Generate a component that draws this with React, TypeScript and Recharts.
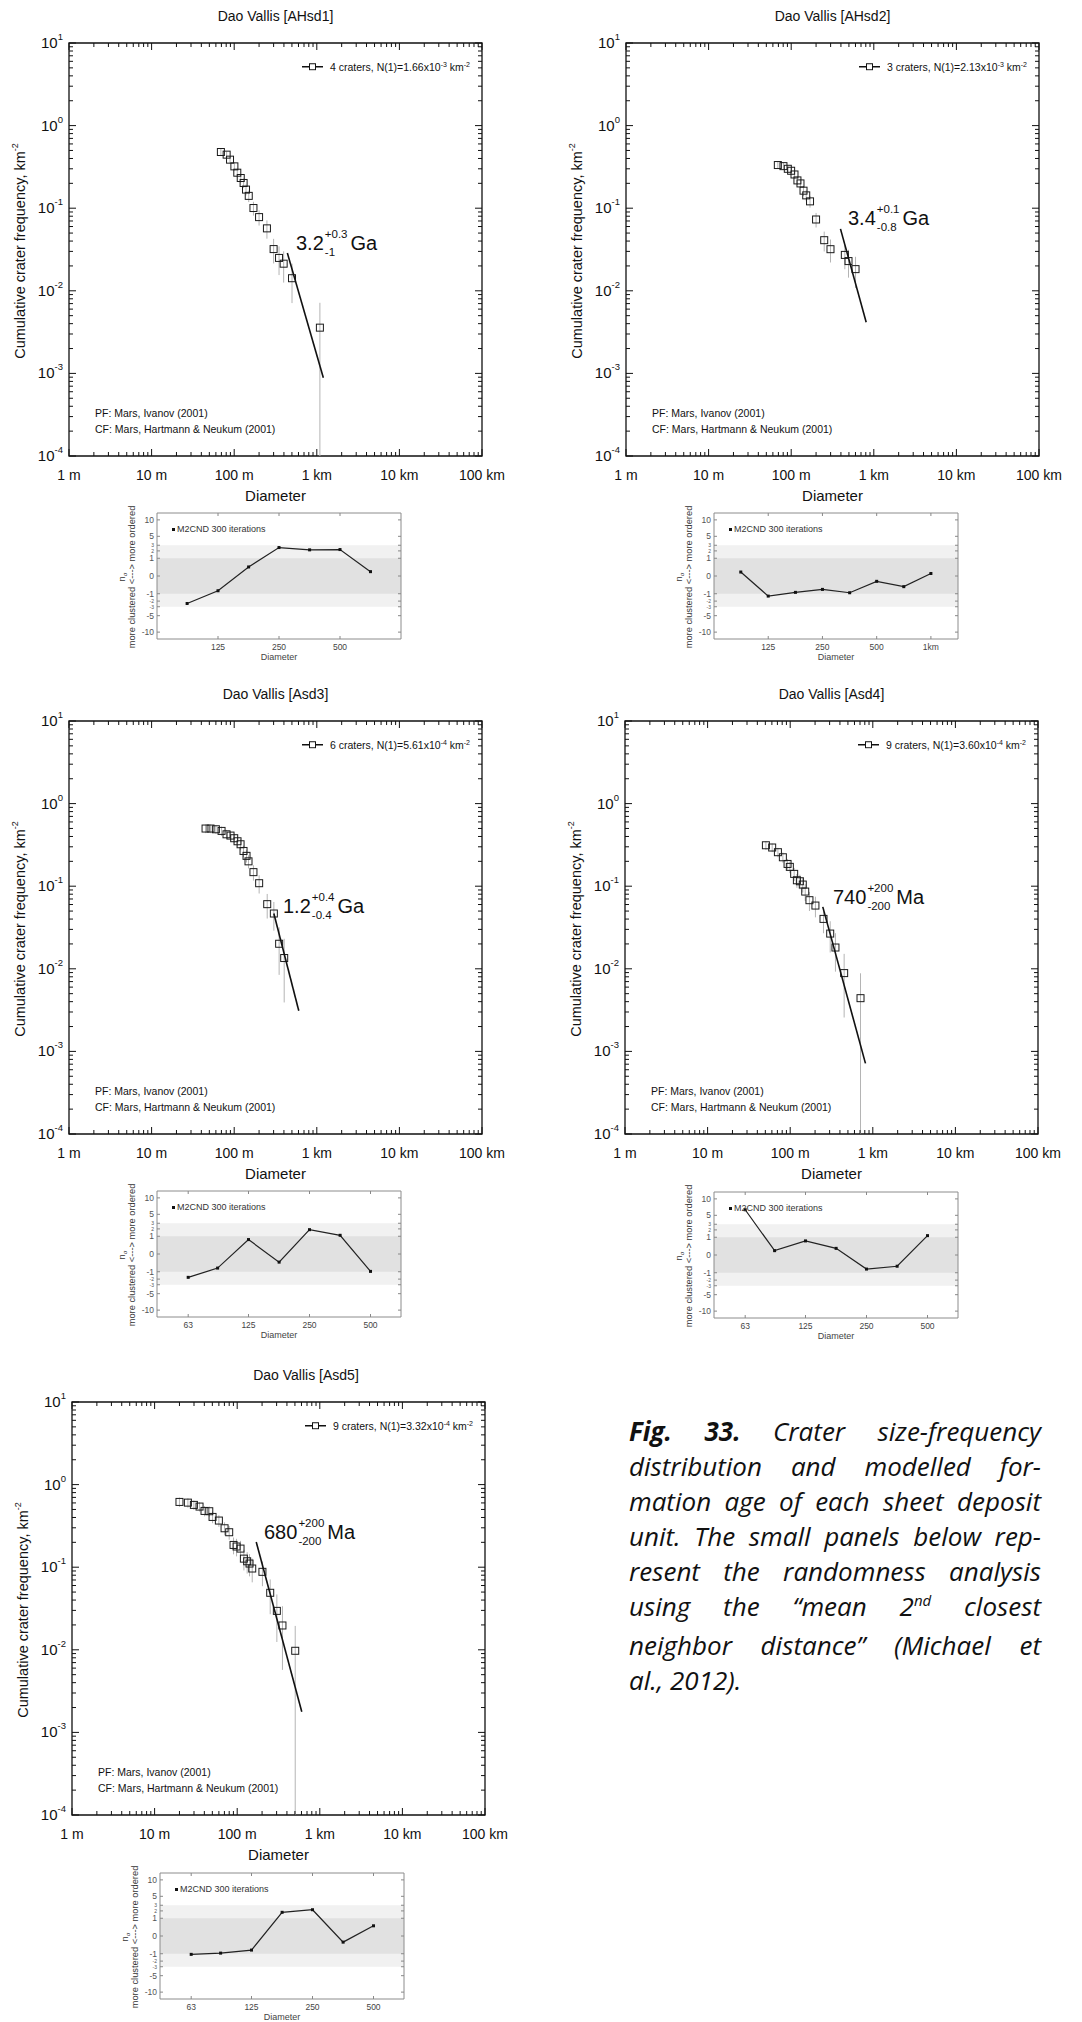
import React from "react";
import { ComposedChart, Scatter, XAxis, YAxis, ErrorBar, ReferenceArea } from "recharts";

const FONT = "'Liberation Sans', Arial, Helvetica, sans-serif";

// ---- crater size-frequency data (diameter km, cumulative frequency km^-2, relative error)
const diam1 = [0.069, 0.081, 0.089, 0.1005, 0.109, 0.12, 0.13, 0.139, 0.15, 0.171, 0.2, 0.249, 0.3, 0.349, 0.397, 0.501, 1.09];
const freq1 = [0.479, 0.445, 0.387, 0.321, 0.269, 0.232, 0.202, 0.168, 0.141, 0.1005, 0.078, 0.057, 0.032, 0.025, 0.0213, 0.0142, 0.00358];
const err1 = [0.09, 0.09, 0.1, 0.11, 0.12, 0.12, 0.13, 0.15, 0.16, 0.19, 0.21, 0.25, 0.33, 0.38, 0.41, 0.5, 1];
const fitD1 = [0.44, 1.2];
const fitN1 = [0.0287, 0.000887];

const diam2 = [0.0689, 0.0806, 0.091, 0.0998, 0.1096, 0.119, 0.1295, 0.141, 0.152, 0.169, 0.2, 0.251, 0.299, 0.446, 0.494, 0.601];
const freq2 = [0.333, 0.323, 0.3, 0.284, 0.256, 0.217, 0.1995, 0.163, 0.143, 0.121, 0.073, 0.041, 0.0319, 0.0272, 0.0229, 0.0183];
const err2 = [0.1, 0.1, 0.1, 0.1, 0.11, 0.12, 0.12, 0.14, 0.15, 0.16, 0.2, 0.27, 0.31, 0.33, 0.37, 0.41];
const fitD2 = [0.395, 0.809];
const fitN2 = [0.0562, 0.00417];

const diam3 = [0.045, 0.0517, 0.06, 0.0703, 0.0807, 0.0903, 0.1, 0.1097, 0.1194, 0.1297, 0.141, 0.149, 0.171, 0.2005, 0.251, 0.302, 0.35, 0.403];
const freq3 = [0.499, 0.499, 0.489, 0.467, 0.425, 0.41, 0.381, 0.35, 0.322, 0.267, 0.233, 0.2, 0.148, 0.1087, 0.0606, 0.0467, 0.0201, 0.0135];
const err3 = [0.12, 0.12, 0.12, 0.13, 0.13, 0.13, 0.13, 0.14, 0.15, 0.16, 0.17, 0.18, 0.21, 0.25, 0.33, 0.38, 0.58, 0.71];
const fitD3 = [0.302, 0.605];
const fitN3 = [0.0467, 0.0031];

const diam4 = [0.0508, 0.0605, 0.071, 0.0815, 0.0929, 0.099, 0.1117, 0.1205, 0.131, 0.142, 0.152, 0.171, 0.202, 0.253, 0.305, 0.353, 0.45, 0.71];
const freq4 = [0.313, 0.294, 0.258, 0.224, 0.186, 0.1714, 0.141, 0.118, 0.1148, 0.1047, 0.0861, 0.0677, 0.0583, 0.0402, 0.0267, 0.0181, 0.00887, 0.00441];
const err4 = [0.12, 0.12, 0.13, 0.14, 0.15, 0.16, 0.18, 0.19, 0.2, 0.2, 0.23, 0.26, 0.28, 0.33, 0.41, 0.49, 0.71, 1];
const fitD4 = [0.248, 0.815];
const fitN4 = [0.0562, 0.000716];

const diam5 = [0.02, 0.0253, 0.0299, 0.035, 0.0402, 0.0459, 0.0503, 0.06, 0.0703, 0.08, 0.0903, 0.0982, 0.1097, 0.1205, 0.132, 0.141, 0.152, 0.202, 0.251, 0.302, 0.353, 0.504];
const freq5 = [0.617, 0.605, 0.568, 0.542, 0.48, 0.476, 0.406, 0.367, 0.296, 0.265, 0.186, 0.178, 0.168, 0.127, 0.118, 0.1107, 0.0964, 0.0879, 0.049, 0.0296, 0.0197, 0.00973];
const err5 = [0.13, 0.13, 0.13, 0.13, 0.14, 0.14, 0.16, 0.16, 0.18, 0.19, 0.23, 0.24, 0.24, 0.28, 0.29, 0.3, 0.32, 0.33, 0.45, 0.58, 0.71, 1];
const fitD5 = [0.17, 0.605];
const fitN5 = [0.202, 0.00178];

const TITLES = ["Dao Vallis [AHsd1]", "Dao Vallis [AHsd2]", "Dao Vallis [Asd3]", "Dao Vallis [Asd4]", "Dao Vallis [Asd5]"];
const LEG_COUNT = ["4 craters", "3 craters", "6 craters", "9 craters", "9 craters"];
const LEG_N = ["1.66", "2.13", "5.61", "3.60", "3.32"];
const LEG_EXP = ["-3", "-3", "-4", "-4", "-4"];
const AGE_VAL = ["3.2", "3.4", "1.2", "740", "680"];
const AGE_UP = ["+0.3", "+0.1", "+0.4", "+200", "+200"];
const AGE_LO = ["-1", "-0.8", "-0.4", "-200", "-200"];
const AGE_UNIT = ["Ga", "Ga", "Ga", "Ma", "Ma"];

// ---- randomness analysis (M2CND), diameter m vs n-sigma
const rx1 = [88, 125, 177, 250, 354, 500, 707];
const rv1 = [-2.4, -0.69, 0.26, 2.57, 2.17, 2.22, 0.06];
const rx2 = [88, 125, 177, 250, 354, 500, 707, 1000];
const rv2 = [0.05, -1.28, -0.85, -0.57, -0.89, -0.09, -0.36, 0.02];
const rx3 = [63, 88, 125, 177, 250, 354, 500];
const rv3 = [-1.73, -0.63, 0.66, -0.21, 1.88, 1.11, -0.96];
const rv4 = [6.5, 0.06, 0.63, 0.14, -0.63, -0.4, 1.19];
const rv5 = [-1.07, -0.93, -0.63, 1.78, 2.19, -0.12, 0.33];

// ---- axes
const X_MAJOR = [0.001, 0.01, 0.1, 1, 10, 100];
const X_LABELS = ["1 m", "10 m", "100 m", "1 km", "10 km", "100 km"];
const Y_MAJOR = [1e-4, 1e-3, 1e-2, 1e-1, 1, 10];
const Y_EXP = ["-4", "-3", "-2", "-1", "0", "1"];
const MINOR = [2, 3, 4, 5, 6, 7, 8, 9];
const X_TICKS = [...X_MAJOR, ...X_MAJOR.slice(0, -1).flatMap((d) => MINOR.map((m) => d * m))];
const Y_TICKS = [...Y_MAJOR, ...Y_MAJOR.slice(0, -1).flatMap((d) => MINOR.map((m) => d * m))];
const R_TICKS = [-10, -5, -3, -2, -1, 0, 1, 2, 3, 5, 10];
const R_SMALL = [-3, -2, 2, 3]; // crowded labels, drawn smaller

const PW = 413; // plot size
const OX = 60;
const OY = 45;
const CW = 503;
const CH = 520;

const mainXTick = (p: any) => {
  const v = p.payload.value;
  const i = X_MAJOR.indexOf(v);
  const len = i >= 0 ? 7 : 4;
  return (
    <g>
      <line x1={p.x} x2={p.x} y1={OY + PW} y2={OY + PW - len} stroke="#111" />
      <line x1={p.x} x2={p.x} y1={OY} y2={OY + len} stroke="#111" />
      {i >= 0 && (
        <text x={p.x} y={OY + PW + 24} textAnchor="middle" fontSize={14} fill="#111">
          {X_LABELS[i]}
        </text>
      )}
    </g>
  );
};

const mainYTick = (p: any) => {
  const v = p.payload.value;
  const i = Y_MAJOR.indexOf(v);
  const len = i >= 0 ? 7 : 4;
  return (
    <g>
      <line x1={OX} x2={OX + len} y1={p.y} y2={p.y} stroke="#111" />
      <line x1={OX + PW} x2={OX + PW - len} y1={p.y} y2={p.y} stroke="#111" />
      {i >= 0 && (
        <text x={OX - 6} y={p.y + 5} textAnchor="end" fontSize={15} fill="#111">
          10
          <tspan dy={-8} fontSize={9.5}>
            {Y_EXP[i]}
          </tspan>
        </text>
      )}
    </g>
  );
};

const openSquare = (p: any) => (
  <rect x={p.cx - 3.5} y={p.cy - 3.5} width={7} height={7} fill="none" stroke="#1a1a1a" strokeWidth={1} />
);
const noShape = () => <g />;

const abs = (left: number, top: number, extra: React.CSSProperties = {}): React.CSSProperties => ({
  position: "absolute",
  left,
  top,
  ...extra,
});

function CraterPanel({ i, L, T, diam, freq, err, fitD, fitN, ageDx, ageDy, titleX }: any) {
  const pts = diam.map((d: number, k: number) => ({
    x: d,
    y: freq[k],
    e: [Math.min(freq[k] * err[k], freq[k] - 1e-4), freq[k] * err[k]],
  }));
  const fit = fitD.map((d: number, k: number) => ({ x: d, y: fitN[k] }));
  return (
    <>
      <div style={abs(L - OX, T - OY)}>
        <ComposedChart width={CW} height={CH} margin={{ top: OY, right: CW - OX - PW, bottom: CH - OY - PW - 30, left: 0 }}>
          <XAxis
            type="number"
            dataKey="x"
            scale="log"
            domain={[0.001, 100]}
            ticks={X_TICKS}
            interval={0}
            tick={mainXTick}
            tickLine={false}
            axisLine={false}
            allowDataOverflow
            height={30}
          />
          <YAxis
            type="number"
            dataKey="y"
            scale="log"
            domain={[1e-4, 10]}
            ticks={Y_TICKS}
            interval={0}
            tick={mainYTick}
            tickLine={false}
            axisLine={false}
            allowDataOverflow
            width={OX}
          />
          <ReferenceArea x1={0.001} x2={100} y1={1e-4} y2={10} fill="none" stroke="#111" strokeWidth={1.3} ifOverflow="visible" />
          <Scatter data={pts} shape={openSquare} isAnimationActive={false}>
            <ErrorBar dataKey="e" direction="y" width={0} stroke="#b4b4b4" strokeWidth={1} isAnimationActive={false} />
          </Scatter>
          <Scatter data={fit} shape={noShape} line={{ stroke: "#111", strokeWidth: 1.6 }} lineType="joint" isAnimationActive={false} />
        </ComposedChart>
      </div>
      <div style={abs(titleX ?? L + PW / 2, T - 27, { transform: "translate(-50%,-50%)", fontSize: 14, whiteSpace: "nowrap" })}>
        {TITLES[i]}
      </div>
      <div style={abs(L + PW / 2, T + PW + 39, { transform: "translate(-50%,-50%)", fontSize: 15, whiteSpace: "nowrap" })}>
        Diameter
      </div>
      <div
        style={abs(L - 49, T + 208, {
          transform: "translate(-50%,-50%) rotate(-90deg)",
          fontSize: 14.5,
          whiteSpace: "nowrap",
          lineHeight: 1,
        })}
      >
        Cumulative crater frequency, km<span style={{ fontSize: 9, position: "relative", top: -7 }}>-2</span>
      </div>
      <div style={abs(L + 233, T + 24, { transform: "translateY(-50%)", display: "flex", alignItems: "center", fontSize: 10.5, whiteSpace: "nowrap", lineHeight: 1 })}>
        <svg width={22} height={8} style={{ display: "block" }}>
          <line x1={0} y1={4} x2={21} y2={4} stroke="#111" strokeWidth={1.4} />
          <rect x={7.5} y={1} width={6} height={6} fill="#fff" stroke="#111" />
        </svg>
        <span style={{ marginLeft: 6 }}>
          {LEG_COUNT[i]}, N(1)={LEG_N[i]}x10
          <span style={{ fontSize: 7, position: "relative", top: -4 }}>{LEG_EXP[i]}</span> km
          <span style={{ fontSize: 7, position: "relative", top: -4 }}>-2</span>
        </span>
      </div>
      <div style={abs(L + 26, T + 370, { transform: "translateY(-50%)", fontSize: 10.5, whiteSpace: "nowrap" })}>PF: Mars, Ivanov (2001)</div>
      <div style={abs(L + 26, T + 386, { transform: "translateY(-50%)", fontSize: 10.5, whiteSpace: "nowrap" })}>
        CF: Mars, Hartmann &amp; Neukum (2001)
      </div>
      <div style={abs(L + ageDx, T + ageDy, { transform: "translateY(-50%)", display: "flex", alignItems: "center", fontSize: 20, lineHeight: 1, whiteSpace: "nowrap" })}>
        <span>{AGE_VAL[i]}</span>
        <span style={{ display: "inline-flex", flexDirection: "column", fontSize: 11.5, lineHeight: "18px", margin: "0 3px 0 1px" }}>
          <span>{AGE_UP[i]}</span>
          <span>{AGE_LO[i]}</span>
        </span>
        <span>{AGE_UNIT[i]}</span>
      </div>
    </>
  );
}

const RW = 244;
const RH = 126;
const ROX = 40;
const ROY = 10;
const RDOM = 12.6;

const dotShape = (p: any) => <rect x={p.cx - 1.5} y={p.cy - 1.5} width={3} height={3} fill="#111" />;

function RandPanel({ L, T, xs, vs, domain, ticks, labels }: any) {
  const data = xs.map((d: number, k: number) => ({ d, v: vs[k] }));
  const xTick = (p: any) => {
    const k = ticks.indexOf(p.payload.value);
    return (
      <g>
        <line x1={p.x} x2={p.x} y1={ROY + RH} y2={ROY + RH - 3} stroke="#888" />
        <line x1={p.x} x2={p.x} y1={ROY} y2={ROY + 3} stroke="#888" />
        <text x={p.x} y={ROY + RH + 11} textAnchor="middle" fontSize={8.5} fill="#444">
          {labels[k]}
        </text>
      </g>
    );
  };
  const yTick = (p: any) => {
    const small = R_SMALL.includes(p.payload.value);
    return (
      <g>
        <line x1={ROX} x2={ROX + 3} y1={p.y} y2={p.y} stroke="#888" />
        <line x1={ROX + RW} x2={ROX + RW - 3} y1={p.y} y2={p.y} stroke="#888" />
        <text x={ROX - 3} y={p.y + (small ? 2 : 3)} textAnchor="end" fontSize={small ? 5 : 8.5} fill="#555">
          {p.payload.value}
        </text>
      </g>
    );
  };
  return (
    <>
      <div style={abs(L - ROX, T - ROY)}>
        <ComposedChart width={ROX + RW + 10} height={ROY + RH + 30} margin={{ top: ROY, right: 10, bottom: 0, left: 0 }}>
          <XAxis
            type="number"
            dataKey="d"
            scale="log"
            domain={domain}
            ticks={ticks}
            interval={0}
            tick={xTick}
            tickLine={false}
            axisLine={false}
            allowDataOverflow
            height={30}
          />
          <YAxis
            type="number"
            dataKey="v"
            scale="sqrt"
            domain={[-RDOM, RDOM]}
            ticks={R_TICKS}
            interval={0}
            tick={yTick}
            tickLine={false}
            axisLine={false}
            allowDataOverflow
            width={ROX}
          />
          <ReferenceArea x1={domain[0]} x2={domain[1]} y1={-3} y2={3} fill="#f1f1f1" fillOpacity={1} stroke="none" />
          <ReferenceArea x1={domain[0]} x2={domain[1]} y1={-1} y2={1} fill="#e1e1e1" fillOpacity={1} stroke="none" />
          <ReferenceArea x1={domain[0]} x2={domain[1]} y1={-RDOM} y2={RDOM} fill="none" stroke="#8c8c8c" strokeWidth={1} ifOverflow="visible" />
          <Scatter data={data} shape={dotShape} line={{ stroke: "#222", strokeWidth: 1.2 }} lineType="joint" isAnimationActive={false} />
        </ComposedChart>
      </div>
      <div style={abs(L + 15, T + 16, { transform: "translateY(-50%)", fontSize: 9, color: "#333", whiteSpace: "nowrap", display: "flex", alignItems: "center" })}>
        <span style={{ display: "inline-block", width: 3, height: 3, background: "#111", marginRight: 2 }} />
        M2CND 300 iterations
      </div>
      <div style={abs(L + RW / 2, T + RH + 18, { transform: "translate(-50%,-50%)", fontSize: 9, color: "#444", whiteSpace: "nowrap" })}>
        Diameter
      </div>
      <div
        style={abs(L - 30, T + 64, {
          transform: "translate(-50%,-50%) rotate(-90deg)",
          fontSize: 9.3,
          lineHeight: "9px",
          textAlign: "center",
          whiteSpace: "nowrap",
          color: "#333",
        })}
      >
        <div>
          n<span style={{ fontSize: 6, position: "relative", top: 2 }}>σ</span>
        </div>
        <div>more clustered &lt;---&gt; more ordered</div>
      </div>
    </>
  );
}

const capLine: React.CSSProperties = { textAlign: "justify", textAlignLast: "justify", whiteSpace: "nowrap" };

export default function App() {
  return (
    <div
      style={{
        position: "absolute",
        left: 0,
        top: 0,
        width: 1082,
        height: 2022,
        overflow: "hidden",
        background: "#fff",
        fontFamily: FONT,
        color: "#111",
      }}
    >
      <CraterPanel i={0} L={69} T={43} diam={diam1} freq={freq1} err={err1} fitD={fitD1} fitN={fitN1} ageDx={227} ageDy={200} />
      <CraterPanel i={1} L={626} T={43} diam={diam2} freq={freq2} err={err2} fitD={fitD2} fitN={fitN2} ageDx={222} ageDy={175} />
      <CraterPanel i={2} L={69} T={721} diam={diam3} freq={freq3} err={err3} fitD={fitD3} fitN={fitN3} ageDx={214} ageDy={185} />
      <CraterPanel i={3} L={625} T={721} diam={diam4} freq={freq4} err={err4} fitD={fitD4} fitN={fitN4} ageDx={208} ageDy={176} />
      <CraterPanel i={4} L={72} T={1402} diam={diam5} freq={freq5} err={err5} fitD={fitD5} fitN={fitN5} ageDx={192} ageDy={130} titleX={306} />

      <RandPanel L={157} T={513} xs={rx1} vs={rv1} domain={[62.5, 1000]} ticks={[125, 250, 500]} labels={["125", "250", "500"]} />
      <RandPanel L={714} T={513} xs={rx2} vs={rv2} domain={[62.5, 1414]} ticks={[125, 250, 500, 1000]} labels={["125", "250", "500", "1km"]} />
      <RandPanel L={157} T={1191} xs={rx3} vs={rv3} domain={[44.2, 707]} ticks={[63, 125, 250, 500]} labels={["63", "125", "250", "500"]} />
      <RandPanel L={714} T={1192} xs={rx3} vs={rv4} domain={[44.2, 707]} ticks={[63, 125, 250, 500]} labels={["63", "125", "250", "500"]} />
      <RandPanel L={160} T={1873} xs={rx3} vs={rv5} domain={[44.2, 707]} ticks={[63, 125, 250, 500]} labels={["63", "125", "250", "500"]} />

      <div
        style={{
          position: "absolute",
          left: 629,
          top: 1414,
          width: 412,
          fontFamily: "'Open Sans', 'Noto Sans', sans-serif",
          fontStyle: "italic",
          fontSize: 26,
          lineHeight: "35px",
          color: "#111",
        }}
      >
        <div style={capLine}>
          <b>Fig. 33.</b> Crater size-frequency
        </div>
        <div style={capLine}>distribution and modelled for-</div>
        <div style={capLine}>mation age of each sheet deposit</div>
        <div style={capLine}>unit. The small panels below rep-</div>
        <div style={capLine}>resent the randomness analysis</div>
        <div style={capLine}>
          using the “mean 2<span style={{ fontSize: 15, position: "relative", top: -10 }}>nd</span> closest
        </div>
        <div style={capLine}>neighbor distance” (Michael et</div>
        <div style={{ whiteSpace: "nowrap" }}>al., 2012).</div>
      </div>
    </div>
  );
}
